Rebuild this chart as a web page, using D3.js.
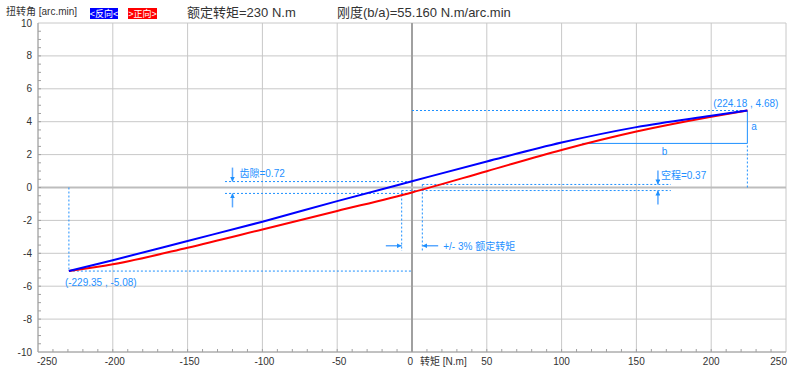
<!DOCTYPE html>
<html>
<head>
<meta charset="utf-8">
<script src="https://cdn.jsdelivr.net/npm/d3@7"></script>
<style>
  body { margin: 0; background: #fff; }
  text { font-family: "Liberation Sans", Arial, "Noto Sans CJK SC", sans-serif; }
</style>
</head>
<body>
<svg id="chart" width="800" height="376"></svg>
<script>
// dados
const xTicks = [-250, -200, -150, -100, -50, 0, 50, 100, 150, 200, 250];
const yTicks = [-10, -8, -6, -4, -2, 0, 2, 4, 6, 8, 10];

// curva azul (反向)
const torqueReverse = [-229.35, -200, -150, -100, -50, 0, 50, 100, 150, 200, 224.18];
const angleReverse  = [-5.08, -4.42, -3.25, -2.08, -0.83, 0.38, 1.58, 2.73, 3.67, 4.36, 4.68];
// curva vermelha (正向)
const torqueForward = [-229.35, -200, -150, -100, -50, 0, 50, 100, 150, 200, 224.18];
const angleForward  = [-5.08, -4.67, -3.66, -2.55, -1.43, -0.30, 0.99, 2.28, 3.40, 4.30, 4.68];

const ratedTorque = 230;
const stiffness = 55.160;
const startPoint = [-229.35, -5.08];
const endPoint = [224.18, 4.68];
const backlash = 0.72;      // 齿隙
const lostMotion = 0.37;    // 空程
const stiffA = 2.0;         // a
const stiffB = 110.32;      // b

const margin = { top: 23, right: 14, bottom: 24, left: 38 };
const W = 800, H = 376;
const blueAnn = "#1e90ff";

const svg = d3.select("#chart");

const x = d3.scaleLinear().domain([-250, 250]).range([margin.left, W - margin.right]);
const y = d3.scaleLinear().domain([-10, 10]).range([H - margin.bottom, margin.top]);

// grade
svg.append("g").selectAll("line").data(xTicks).enter().append("line")
    .attr("x1", d => x(d)).attr("x2", d => x(d))
    .attr("y1", y(10)).attr("y2", y(-10))
    .attr("stroke", "#c8c8c8").attr("stroke-width", 1);
svg.append("g").selectAll("line").data(yTicks).enter().append("line")
    .attr("x1", x(-250)).attr("x2", x(250))
    .attr("y1", d => y(d)).attr("y2", d => y(d))
    .attr("stroke", "#c8c8c8").attr("stroke-width", 1);

// eixos zero
svg.append("line").attr("x1", x(0)).attr("x2", x(0)).attr("y1", y(10)).attr("y2", y(-10))
    .attr("stroke", "#a0a0a0").attr("stroke-width", 2);
svg.append("line").attr("x1", x(-250)).attr("x2", x(250)).attr("y1", y(0)).attr("y2", y(0))
    .attr("stroke", "#bdbdbd").attr("stroke-width", 2);

// bordas
svg.append("line").attr("x1", x(-250)).attr("x2", x(-250)).attr("y1", y(10)).attr("y2", y(-10))
    .attr("stroke", "#a0a0a0");
svg.append("line").attr("x1", x(-250)).attr("x2", x(250)).attr("y1", y(-10)).attr("y2", y(-10))
    .attr("stroke", "#a0a0a0");

// ticks menores
svg.append("g").selectAll("line").data(d3.range(-240, 250, 10)).enter().append("line")
    .attr("x1", d => x(d)).attr("x2", d => x(d))
    .attr("y1", y(-10)).attr("y2", y(-10) - 3)
    .attr("stroke", "#a0a0a0");
svg.append("g").selectAll("line").data(d3.range(-9.5, 10, 0.5)).enter().append("line")
    .attr("x1", x(-250)).attr("x2", x(-250) + 3)
    .attr("y1", d => y(d)).attr("y2", d => y(d))
    .attr("stroke", "#a0a0a0");

// rótulos
svg.append("g").selectAll("text").data(yTicks).enter().append("text")
    .attr("x", 32).attr("y", d => y(d) + 3.5)
    .attr("text-anchor", "end").attr("font-size", 10).attr("fill", "#333")
    .text(d => d);
svg.append("g").selectAll("text").data(xTicks).enter().append("text")
    .attr("x", d => d === -250 ? x(d) - 1 : d === 250 ? x(d) + 1 : (d === 0 ? x(d) + 1 : x(d) + (d < 0 ? 2 : 0)))
    .attr("y", 365)
    .attr("text-anchor", d => d === -250 ? "start" : d === 250 ? "end" : d === 0 ? "end" : "middle")
    .attr("font-size", 10).attr("fill", "#333")
    .text(d => d);
svg.append("text").attr("x", x(0) + 8).attr("y", 365)
    .attr("font-size", 10).attr("fill", "#333").text("转矩 [N.m]");

// cabeçalho
svg.append("text").attr("x", 6).attr("y", 15).attr("font-size", 10).attr("fill", "#333")
    .text("扭转角 [arc.min]");
svg.append("rect").attr("x", 90).attr("y", 8).attr("width", 28).attr("height", 11).attr("fill", "#0000ff");
svg.append("text").attr("x", 104).attr("y", 17).attr("text-anchor", "middle")
    .attr("font-size", 9).attr("fill", "#fff").text("<反向<");
svg.append("rect").attr("x", 128).attr("y", 8).attr("width", 29).attr("height", 11).attr("fill", "#ff0000");
svg.append("text").attr("x", 142.5).attr("y", 17).attr("text-anchor", "middle")
    .attr("font-size", 9).attr("fill", "#fff").text(">正向>");
svg.append("text").attr("x", 187).attr("y", 17).attr("font-size", 13).attr("fill", "#333")
    .text("额定转矩=" + ratedTorque + " N.m");
svg.append("text").attr("x", 337).attr("y", 17).attr("font-size", 13).attr("fill", "#333")
    .text("刚度(b/a)=" + stiffness.toFixed(3) + " N.m/arc.min");

// marcadores de seta
svg.append("defs").append("marker")
    .attr("id", "arr").attr("viewBox", "0 0 6 6")
    .attr("refX", 6).attr("refY", 3)
    .attr("markerWidth", 5).attr("markerHeight", 5)
    .attr("markerUnits", "userSpaceOnUse")
    .attr("orient", "auto")
    .append("path").attr("d", "M0,0L6,3L0,6z").attr("fill", blueAnn);

const ann = svg.append("g");
function dashed(x1, y1, x2, y2) {
    ann.append("line").attr("x1", x(x1)).attr("y1", y(y1)).attr("x2", x(x2)).attr("y2", y(y2))
        .attr("stroke", blueAnn).attr("stroke-width", 1).attr("stroke-dasharray", "2,2");
}
function solid(x1, y1, x2, y2) {
    ann.append("line").attr("x1", x(x1)).attr("y1", y(y1)).attr("x2", x(x2)).attr("y2", y(y2))
        .attr("stroke", blueAnn).attr("stroke-width", 1);
}
function arrow(x1, y1, x2, y2) {
    ann.append("line").attr("x1", x(x1)).attr("y1", y(y1)).attr("x2", x(x2)).attr("y2", y(y2))
        .attr("stroke", "#5aa8ff").attr("stroke-width", 1.5).attr("marker-end", "url(#arr)");
}
function label(px, py, txt, anchor) {
    ann.append("text").attr("x", px).attr("y", py).attr("font-size", 10)
        .attr("text-anchor", anchor || "start").attr("fill", blueAnn).text(txt);
}

// ponto inicial
dashed(startPoint[0], 0, startPoint[0], startPoint[1]);
dashed(startPoint[0], startPoint[1], 0, startPoint[1]);
label(x(startPoint[0]) - 4, y(startPoint[1]) + 15, "(" + startPoint[0] + " , " + startPoint[1].toFixed(2) + ")");

// ponto final + triângulo de rigidez
dashed(0, endPoint[1], endPoint[0], endPoint[1]);
dashed(endPoint[0], 0, endPoint[0], endPoint[1] - stiffA);
solid(endPoint[0], endPoint[1] - stiffA, endPoint[0], endPoint[1]);
solid(endPoint[0] - stiffB, endPoint[1] - stiffA, endPoint[0], endPoint[1] - stiffA);
label(x(endPoint[0]) + 31, y(endPoint[1]) - 4, "(" + endPoint[0] + " , " + endPoint[1].toFixed(2) + ")", "end");
label(x(endPoint[0]) + 4, y(endPoint[1] - stiffA / 2) + 3, "a");
label(x(endPoint[0] - stiffB / 2) - 3, y(endPoint[1] - stiffA) + 12, "b");

// 齿隙
dashed(-125, backlash / 2, 0, backlash / 2);
dashed(-125, -backlash / 2, 0, -backlash / 2);
arrow(-120, backlash / 2 + 0.85, -120, backlash / 2);
arrow(-120, -backlash / 2 - 0.85, -120, -backlash / 2);
label(x(-120) + 7, y(backlash / 2) - 5, "齿隙=" + backlash.toFixed(2));

// 空程 e ±3%
const t3 = ratedTorque * 0.03;
dashed(t3, lostMotion / 2, 173, lostMotion / 2);
dashed(-t3, -lostMotion / 2, 173, -lostMotion / 2);
arrow(164.4, lostMotion / 2 + 0.85, 164.4, lostMotion / 2);
arrow(164.4, -lostMotion / 2 - 0.85, 164.4, -lostMotion / 2);
label(x(164.4) + 3, y(lostMotion / 2) - 5, "空程=" + lostMotion.toFixed(2));

dashed(-t3, -lostMotion / 2, -t3, -3.85);
dashed(t3, lostMotion / 2, t3, -3.85);
arrow(-17.5, -3.54, -t3, -3.54);
arrow(17.5, -3.54, t3, -3.54);
label(x(17.5) + 5, y(-3.54) + 4, "+/- 3% 额定转矩");

// curvas
const line = d3.line().x(d => x(d[0])).y(d => y(d[1])).curve(d3.curveMonotoneX);
svg.append("path")
    .datum(d3.zip(torqueForward, angleForward))
    .attr("d", line).attr("fill", "none").attr("stroke", "#ff0000").attr("stroke-width", 2);
svg.append("path")
    .datum(d3.zip(torqueReverse, angleReverse))
    .attr("d", line).attr("fill", "none").attr("stroke", "#0000ff").attr("stroke-width", 2);
</script>
</body>
</html>
